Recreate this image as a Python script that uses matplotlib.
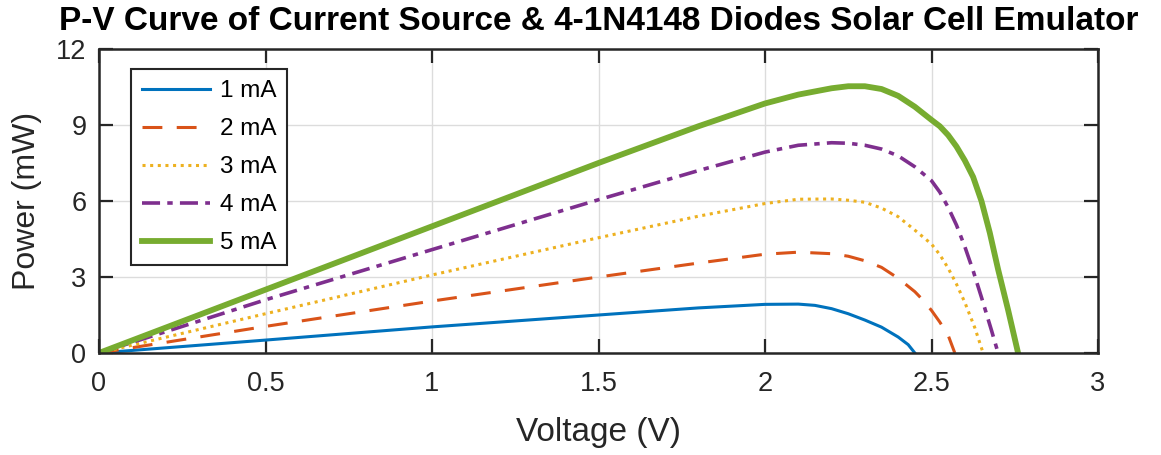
import matplotlib
matplotlib.use("Agg")
import matplotlib.pyplot as plt

# ---- data ----
v_1mA = [0, 0.5, 1.0, 1.5, 1.8, 2.0, 2.1, 2.15, 2.2, 2.25, 2.3, 2.35, 2.4, 2.43, 2.45]
p_1mA = [0, 0.51, 1.03, 1.5, 1.78, 1.92, 1.93, 1.88, 1.75, 1.55, 1.3, 1.02, 0.63, 0.33, 0]

v_2mA = [0, 0.5, 1.0, 1.5, 1.8, 2.0, 2.1, 2.2, 2.25, 2.3, 2.35, 2.4, 2.45, 2.475, 2.5, 2.525, 2.55, 2.57]
p_2mA = [0, 1.05, 2.05, 3.0, 3.55, 3.9, 3.98, 3.92, 3.82, 3.64, 3.38, 2.95, 2.42, 2.08, 1.68, 1.22, 0.7, 0]

v_3mA = [0, 0.5, 1.0, 1.5, 1.8, 2.0, 2.1, 2.2, 2.25, 2.3, 2.35, 2.4, 2.45, 2.5, 2.525, 2.55, 2.575, 2.6, 2.63, 2.655]
p_3mA = [0, 1.55, 3.08, 4.55, 5.4, 5.9, 6.07, 6.08, 6.03, 5.95, 5.72, 5.38, 4.85, 4.3, 3.88, 3.35, 2.72, 2.0, 1.0, 0]

v_4mA = [0, 0.5, 1.0, 1.5, 1.8, 2.0, 2.1, 2.2, 2.25, 2.3, 2.35, 2.4, 2.45, 2.5, 2.525, 2.55, 2.575, 2.6, 2.625, 2.65, 2.68, 2.70]
p_4mA = [0, 2.1, 4.08, 6.05, 7.2, 7.93, 8.2, 8.3, 8.28, 8.2, 8.05, 7.78, 7.35, 6.8, 6.35, 5.75, 5.05, 4.2, 3.25, 2.2, 0.9, 0]

v_5mA = [0, 0.5, 1.0, 1.5, 1.8, 2.0, 2.1, 2.2, 2.25, 2.3, 2.35, 2.4, 2.45, 2.5, 2.525, 2.55, 2.575, 2.6, 2.625, 2.65, 2.675, 2.7, 2.73, 2.76]
p_5mA = [0, 2.5, 5.0, 7.5, 8.95, 9.85, 10.2, 10.45, 10.53, 10.53, 10.42, 10.15, 9.72, 9.2, 8.95, 8.6, 8.15, 7.6, 6.95, 6.0, 4.75, 3.3, 1.7, 0]

series_labels = ["1 mA", "2 mA", "3 mA", "4 mA", "5 mA"]
x_ticks = [0, 0.5, 1, 1.5, 2, 2.5, 3]
x_tick_labels = ["0", "0.5", "1", "1.5", "2", "2.5", "3"]
y_ticks = [0, 3, 6, 9, 12]
y_tick_labels = ["0", "3", "6", "9", "12"]

title_text = "P-V Curve of Current Source & 4-1N4148 Diodes Solar Cell Emulator"
x_label = "Voltage (V)"
y_label = "Power (mW)"

# ---- styling ----
plt.rcParams["font.family"] = ["Liberation Sans", "DejaVu Sans"]

colors = ["#0072BD", "#D95319", "#EDB120", "#7E2F8E", "#77AC30"]
styles = ["-", (0, (6.5, 4.7)), (0, (1, 1.5)), (0, (5, 2, 1.5, 2)), "-"]
widths = [2.2, 2.2, 2.2, 2.6, 4.2]

fig = plt.figure(figsize=(11.61, 4.55), dpi=100)
ax = fig.add_axes([99 / 1161, 1 - 353 / 455, (1098 - 99) / 1161, (353 - 49) / 455])

data = [(v_1mA, p_1mA), (v_2mA, p_2mA), (v_3mA, p_3mA), (v_4mA, p_4mA), (v_5mA, p_5mA)]
for (v, p), lab, c, ls, lw in zip(data, series_labels, colors, styles, widths):
    ax.plot(v, p, color=c, linestyle=ls, linewidth=lw, label=lab)

ax.set_xlim(0, 3)
ax.set_ylim(0, 12)
ax.set_xticks(x_ticks)
ax.set_xticklabels(x_tick_labels)
ax.set_yticks(y_ticks)
ax.set_yticklabels(y_tick_labels)
ax.grid(True, color="#dcdcdc", linewidth=1.0)
ax.set_axisbelow(True)
ax.tick_params(direction="in", length=10, width=1.6, top=True, right=True,
               labelsize=19.5, colors="#262626")
ax.tick_params(axis="x", pad=13)
ax.tick_params(axis="y", pad=9)
for s in ax.spines.values():
    s.set_linewidth(1.8)
    s.set_color("#262626")

ax.set_xlabel(x_label, fontsize=24, color="#262626", labelpad=14)
ax.set_ylabel(y_label, fontsize=23, color="#262626", labelpad=10)
ax.set_title(title_text, fontsize=24, fontweight="bold", color="black", pad=14)

leg = ax.legend(loc="upper left", bbox_to_anchor=(0.032, 0.934), borderaxespad=0,
                fontsize=17.5, handlelength=2.8, handletextpad=0.4, borderpad=0.45,
                labelspacing=0.66, frameon=True, fancybox=False,
                edgecolor="#262626", framealpha=1)
leg.get_frame().set_linewidth(1.5)

fig.savefig("out.png", dpi=100)
